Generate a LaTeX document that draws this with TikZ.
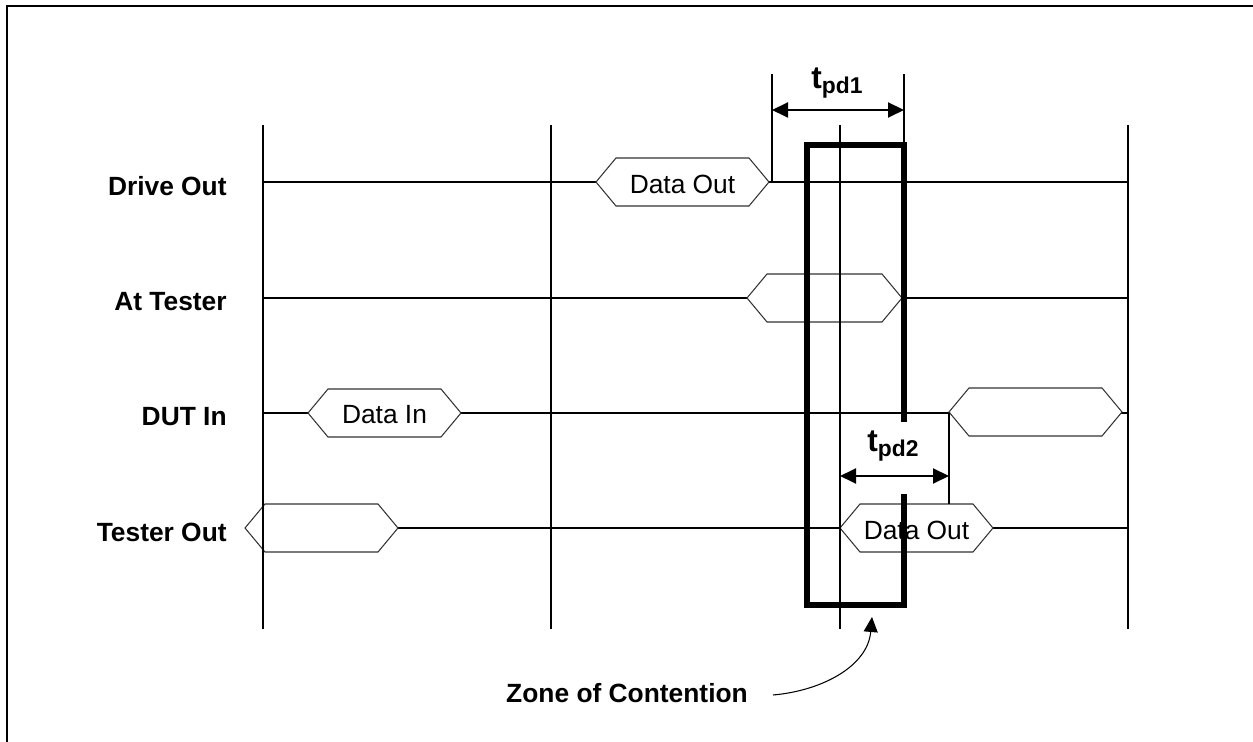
\documentclass[tikz,border=0pt]{standalone}
\usepackage{fontspec}
\setmainfont{Liberation Sans}
\usetikzlibrary{arrows.meta,calc}

\newcommand{\tpd}[1]{t\raisebox{-0.32ex}{\fontsize{13}{13}\selectfont pd#1}}

\begin{document}
\begin{tikzpicture}[
  x=0.02cm, y=-0.02cm,
  font=\fontsize{15}{18}\selectfont,
  frame/.style={line width=1.1pt},
  sig/.style={line width=1.1pt},
  tick/.style={line width=1.1pt},
  bus/.style={draw=black!80, line width=0.6pt, fill=white},
  sname/.style={font=\fontsize{15}{18}\selectfont\bfseries, anchor=east, inner sep=0pt},
  dtext/.style={inner sep=0pt},
  zone/.style={line width=2.9pt, line join=miter},
  dim/.style={{Triangle[length=0.32cm,width=0.3cm]}-{Triangle[length=0.32cm,width=0.3cm]}, line width=1.1pt},
  tlabel/.style={font=\fontsize{18}{20}\selectfont\bfseries, inner sep=0pt},
  callout/.style={-{Triangle[length=0.3cm,width=0.28cm]}, line width=0.6pt},
]
\useasboundingbox (0,0) rectangle (1253,742);

% frame
\draw[frame] (7,742) -- (7,6) -- (1253,6);

% signal rows
\foreach \yy/\nm/\txt in {182/drv/Drive Out, 298/att/At Tester, 413/dut/DUT In, 528/tst/Tester Out}{
  \coordinate (\nm W) at (263,\yy);
  \coordinate (\nm E) at (1128,\yy);
  \draw[sig] (\nm W) -- (\nm E);
  \node[sname] (\nm) at (227,\yy+4) {\txt};
}

% data buses (hexagons)
\foreach \xa/\xb/\yy/\nm/\txt in {596/769/182/bdrv/Data Out, 747/902/298/batt/{}, 308/461/413/bdin/Data In,
                                  949/1122/412/bdut/{}, 245/398/528/btlft/{}, 840/993/528/btout/Data Out}{
  \draw[bus] (\xa,\yy) -- (\xa+20,\yy-24) -- (\xb-20,\yy-24) -- (\xb,\yy)
             -- (\xb-20,\yy+24) -- (\xa+20,\yy+24) -- cycle;
  \node[dtext] (\nm) at ({(\xa+\xb)/2},\yy+2) {\txt};
}

% time grid
\foreach \xx/\nm in {263/ga, 551/gb, 840/gc, 1128/gd}{
  \coordinate (\nm T) at (\xx,125);
  \coordinate (\nm B) at (\xx,629);
  \draw[tick] (\nm T) -- (\nm B);
}

% zone of contention box (open where tpd2 crosses)
\coordinate (zNE) at (904,145);
\coordinate (zNW) at (807,145);
\coordinate (zSW) at (807,605);
\coordinate (zSE) at (904,605);
\coordinate (zA) at (904,422);
\coordinate (zB) at (904,494);
\draw[zone] (zA) -- (zNE) -- (zNW) -- (zSW) -- (zSE) -- (zB);

% tpd1
\coordinate (p1L) at (772,74);
\coordinate (p1R) at (904,74);
\draw[tick] (p1L) -- (p1L |- drvW);
\draw[tick] (p1R) -- (zNE);
\draw[dim] ($(p1L)+(0,36)$) -- ($(p1R)+(0,36)$);
\node[tlabel] (tpd1) at (837,83) {\tpd{1}};

% tpd2
\coordinate (p2T) at (949,413);
\coordinate (p2B) at (949,504);
\draw[tick] (p2T) -- (p2B);
\draw[dim] (gcT |- 0,476) -- (p2T |- 0,476);
\node[tlabel] (tpd2) at (893,446) {\tpd{2}};

% callout
\node[font=\fontsize{15}{18}\selectfont\bfseries, inner sep=0pt] (zlbl) at (627,693) {Zone of Contention};
\coordinate (zfrom) at (773,695);
\coordinate (zto) at (872,617);
\draw[callout] (zfrom) to[out=5,in=-95] (zto);

\end{tikzpicture}
\end{document}
